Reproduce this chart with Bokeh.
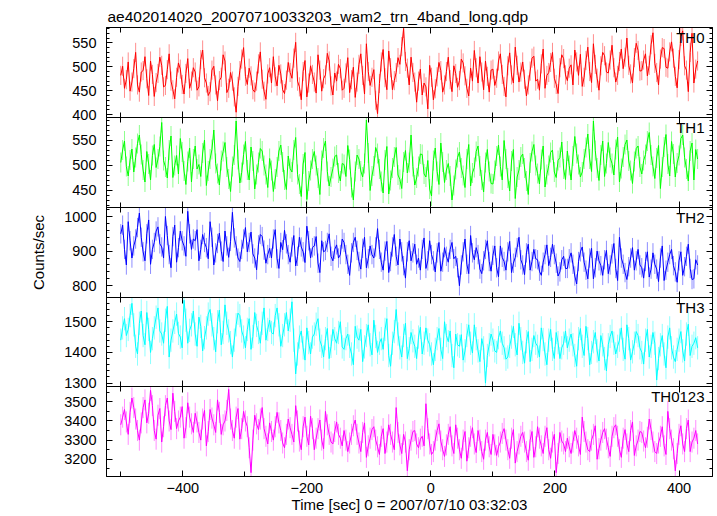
import numpy as np
from bokeh.plotting import figure
from bokeh.models import LinearAxis, SingleIntervalTicker, Label, Range1d, CustomJSTickFormatter
from bokeh.layouts import column
from bokeh.embed import file_html
from bokeh.resources import INLINE

TITLE = "ae402014020_20070710033203_wam2_trn_4band_long.qdp"
XLABEL = "Time [sec] 0 = 2007/07/10 03:32:03"
YLABEL = "Counts/sec"
T_START, T_END = -500, 430

panel_names = ["TH0", "TH1", "TH2", "TH3", "TH0123"]
panel_colors = ["#ff0000", "#00ff00", "#0000ff", "#00ffff", "#ff00ff"]

th0 = [482, 501, 455, 473, 510, 449, 468, 496, 530, 462, 447, 489, 492, 521, 475, 440, 512, 484, 438, 467,
       486, 520, 503, 458, 461, 494, 527, 470, 452, 433, 478, 508, 495, 463, 443, 486, 517, 455, 470, 498,
       489, 451, 458, 515, 535, 477, 466, 440, 448, 493, 501, 462, 429, 471, 478, 525, 512, 446, 455, 488,
       470, 437, 405, 459, 492, 516, 540, 480, 463, 497, 481, 452, 447, 470, 506, 531, 474, 449, 432, 485,
       498, 466, 521, 479, 460, 503, 485, 452, 444, 472, 509, 488, 476, 518, 551, 470, 458, 431, 490, 513,
       437, 466, 502, 484, 468, 445, 525, 493, 449, 475, 483, 528, 512, 460, 441, 487, 470, 505, 496, 451,
       455, 487, 519, 446, 473, 499, 436, 468, 505, 527, 482, 443, 548, 490, 461, 478, 494, 430, 402, 465,
       510, 536, 477, 452, 533, 498, 452, 471, 488, 519, 505, 542, 580, 511, 497, 462, 520, 488, 468, 426,
       470, 495, 441, 466, 458, 412, 503, 478, 431, 454, 479, 509, 492, 447, 462, 490, 520, 473, 448, 502,
       486, 457, 471, 516, 508, 481, 455, 439, 497, 470, 534, 498, 466, 521, 489, 452, 512, 480, 447, 493,
       495, 461, 476, 512, 527, 484, 459, 437, 502, 529, 483, 466, 541, 503, 468, 489, 510, 474, 439, 462,
       491, 518, 522, 470, 474, 451, 506, 537, 455, 482, 488, 509, 530, 476, 463, 444, 498, 525, 517, 483,
       471, 497, 504, 462, 535, 510, 482, 526, 459, 478, 513, 541, 490, 467, 548, 505, 476, 451, 502, 530,
       523, 489, 487, 514, 545, 498, 468, 482, 511, 537, 496, 520, 560, 503, 485, 466, 519, 549, 534, 491,
       492, 514, 527, 481, 503, 546, 571, 507, 488, 462, 516, 540, 538, 499, 497, 531, 552, 518, 480, 456,
       515, 563, 575, 502, 493, 448, 530, 570, 466, 495, 512]

th1 = [505, 530, 548, 497, 478, 510, 532, 486, 515, 543, 560, 521, 490, 466, 527, 502, 470, 519, 541, 495,
       512, 537, 585, 509, 496, 474, 530, 558, 475, 499, 519, 482, 553, 526, 488, 461, 507, 534, 466, 512,
       538, 492, 501, 477, 524, 550, 459, 488, 512, 531, 570, 503, 483, 460, 509, 527, 545, 496, 472, 447,
       497, 520, 588, 511, 464, 485, 521, 547, 490, 470, 536, 508, 452, 481, 505, 533, 528, 499, 481, 455,
       513, 489, 447, 472, 496, 528, 540, 506, 470, 451, 518, 493, 486, 530, 555, 481, 462, 437, 502, 525,
       431, 468, 489, 512, 527, 499, 474, 441, 509, 534, 548, 487, 458, 476, 493, 517, 520, 484, 468, 503,
       501, 477, 539, 511, 455, 430, 487, 520, 512, 488, 476, 503, 590, 524, 449, 478, 498, 535, 523, 492,
       467, 444, 510, 537, 442, 469, 494, 516, 535, 480, 471, 453, 506, 529, 484, 505, 560, 497, 460, 474,
       497, 522, 521, 482, 476, 509, 452, 438, 509, 534, 487, 461, 544, 506, 465, 490, 503, 478, 430, 459,
       491, 515, 526, 494, 479, 455, 512, 541, 458, 484, 495, 527, 538, 498, 470, 446, 505, 531, 487, 463,
       462, 489, 518, 540, 497, 470, 549, 512, 474, 448, 508, 531, 433, 476, 490, 516, 522, 494, 468, 441,
       504, 527, 541, 499, 483, 462, 511, 538, 456, 481, 499, 525, 530, 486, 475, 509, 515, 546, 492, 471,
       528, 499, 470, 518, 557, 523, 501, 476, 486, 512, 535, 562, 512, 487, 588, 529, 494, 469, 520, 548,
       477, 503, 545, 515, 503, 480, 531, 556, 466, 493, 516, 541, 550, 508, 489, 463, 507, 533, 538, 496,
       482, 509, 521, 548, 565, 520, 497, 473, 514, 539, 453, 496, 536, 561, 502, 478, 547, 522, 476, 504,
       519, 553, 560, 515, 492, 468, 528, 544, 470, 531, 512]

th2 = [950, 975, 905, 860, 985, 930, 880, 915, 935, 968, 1010, 940, 898, 872, 950, 990, 862, 905, 925, 958,
       970, 921, 912, 880, 1000, 945, 890, 852, 942, 975, 868, 910, 958, 930, 915, 885, 1015, 950, 905, 935,
       930, 962, 872, 905, 948, 925, 910, 878, 985, 940, 860, 895, 922, 952, 900, 870, 958, 915, 882, 928,
       1012, 938, 915, 880, 870, 905, 935, 968, 898, 925, 955, 892, 880, 846, 918, 948, 942, 903, 865, 890,
       908, 880, 935, 962, 878, 850, 925, 904, 960, 921, 890, 868, 912, 945, 857, 885, 940, 912, 898, 867,
       972, 930, 880, 910, 915, 942, 865, 838, 930, 898, 902, 925, 950, 885, 872, 905, 918, 880, 890, 935,
       925, 890, 862, 830, 895, 925, 940, 902, 870, 848, 908, 940, 852, 878, 915, 890, 880, 912, 965, 905,
       868, 845, 900, 928, 838, 870, 912, 948, 885, 860, 935, 898, 858, 822, 898, 930, 872, 895, 920, 862,
       880, 845, 905, 938, 850, 872, 930, 890, 872, 840, 895, 925, 842, 868, 910, 885, 868, 905, 925, 878,
       885, 852, 800, 860, 898, 935, 862, 835, 945, 895, 875, 910, 890, 848, 835, 872, 905, 930, 870, 842,
       888, 915, 852, 826, 915, 882, 870, 845, 898, 928, 838, 865, 882, 910, 940, 875, 860, 832, 895, 920,
       845, 870, 905, 878, 875, 842, 830, 868, 890, 918, 858, 882, 920, 890, 865, 828, 840, 875, 885, 850,
       850, 878, 895, 862, 828, 805, 870, 898, 912, 868, 845, 820, 880, 908, 820, 852, 900, 872, 858, 830,
       875, 902, 835, 860, 892, 922, 850, 815, 940, 880, 862, 838, 818, 855, 880, 910, 845, 872, 905, 860,
       852, 822, 870, 898, 825, 848, 895, 862, 848, 812, 880, 915, 815, 845, 868, 890, 905, 858, 840, 810,
       872, 898, 830, 855, 885, 920, 850, 818, 820, 875, 860]

th3 = [1440, 1480, 1510, 1455, 1475, 1520, 1560, 1490, 1420, 1395, 1495, 1535, 1455, 1425, 1530, 1475, 1400, 1445, 1480, 1515,
       1545, 1470, 1460, 1430, 1505, 1550, 1385, 1440, 1470, 1498, 1525, 1462, 1450, 1415, 1570, 1505, 1430, 1472, 1490, 1535,
       1460, 1420, 1515, 1485, 1405, 1448, 1480, 1525, 1540, 1490, 1445, 1402, 1500, 1538, 1425, 1465, 1555, 1495, 1470, 1432,
       1385, 1440, 1490, 1528, 1520, 1470, 1450, 1415, 1475, 1510, 1410, 1452, 1530, 1488, 1465, 1430, 1495, 1545, 1440, 1475,
       1505, 1465, 1460, 1520, 1545, 1490, 1420, 1455, 1490, 1530, 1470, 1505, 1565, 1440, 1330, 1395, 1450, 1470, 1415, 1375,
       1480, 1432, 1395, 1450, 1460, 1492, 1510, 1440, 1420, 1385, 1445, 1478, 1380, 1420, 1475, 1445, 1430, 1465, 1500, 1418,
       1410, 1445, 1460, 1420, 1395, 1360, 1485, 1450, 1440, 1475, 1370, 1418, 1455, 1490, 1425, 1392, 1505, 1452, 1400, 1430,
       1445, 1410, 1475, 1510, 1390, 1355, 1430, 1468, 1540, 1460, 1415, 1385, 1455, 1495, 1380, 1412, 1465, 1438, 1420, 1380,
       1450, 1482, 1395, 1430, 1480, 1440, 1425, 1395, 1360, 1410, 1445, 1478, 1410, 1380, 1500, 1455, 1435, 1470, 1390, 1350,
       1460, 1425, 1420, 1458, 1375, 1405, 1455, 1490, 1430, 1398, 1490, 1445, 1405, 1370, 1445, 1415, 1300, 1390, 1425, 1460,
       1440, 1405, 1400, 1448, 1470, 1430, 1415, 1378, 1385, 1420, 1450, 1485, 1425, 1392, 1495, 1445, 1400, 1365, 1435, 1468,
       1370, 1410, 1455, 1430, 1420, 1385, 1480, 1442, 1395, 1360, 1440, 1475, 1410, 1380, 1465, 1432, 1380, 1415, 1430, 1470,
       1415, 1440, 1460, 1425, 1390, 1355, 1445, 1478, 1420, 1390, 1485, 1445, 1360, 1400, 1435, 1465, 1405, 1372, 1455, 1425,
       1380, 1340, 1425, 1452, 1470, 1430, 1395, 1420, 1440, 1480, 1410, 1378, 1490, 1445, 1375, 1402, 1430, 1468, 1455, 1415,
       1400, 1362, 1440, 1475, 1385, 1420, 1465, 1430, 1310, 1380, 1425, 1455, 1395, 1350, 1450, 1480, 1415, 1385, 1370, 1410,
       1440, 1468, 1405, 1372, 1460, 1492, 1390, 1420, 1430, 1448, 1415]

th0123 = [3380, 3420, 3460, 3395, 3330, 3445, 3520, 3470, 3410, 3350, 3300, 3390, 3470, 3510, 3390, 3440, 3560, 3480, 3350, 3305,
          3430, 3465, 3290, 3370, 3480, 3520, 3400, 3355, 3545, 3450, 3360, 3400, 3420, 3475, 3310, 3365, 3495, 3420, 3385, 3340,
          3440, 3395, 3340, 3300, 3410, 3455, 3270, 3345, 3460, 3415, 3380, 3340, 3510, 3445, 3330, 3380, 3400, 3455, 3565, 3410,
          3350, 3310, 3420, 3465, 3305, 3360, 3450, 3400, 3370, 3260, 3130, 3300, 3430, 3385, 3355, 3410, 3470, 3360, 3320, 3280,
          3390, 3345, 3300, 3370, 3445, 3390, 3350, 3285, 3260, 3330, 3410, 3365, 3330, 3290, 3480, 3400, 3295, 3250, 3370, 3420,
          3320, 3275, 3425, 3360, 3250, 3310, 3360, 3405, 3300, 3255, 3450, 3380, 3330, 3290, 3280, 3345, 3395, 3330, 3310, 3270,
          3350, 3300, 3240, 3285, 3330, 3375, 3405, 3330, 3285, 3240, 3340, 3390, 3210, 3270, 3310, 3355, 3370, 3300, 3265, 3225,
          3320, 3360, 3230, 3290, 3380, 3330, 3290, 3250, 3470, 3340, 3275, 3230, 3330, 3290, 3140, 3250, 3300, 3345, 3350, 3280,
          3260, 3305, 3320, 3270, 3490, 3360, 3280, 3225, 3240, 3300, 3350, 3385, 3295, 3250, 3215, 3275, 3330, 3370, 3270, 3230,
          3380, 3310, 3250, 3205, 3300, 3345, 3190, 3260, 3320, 3365, 3280, 3235, 3350, 3300, 3240, 3200, 3300, 3340, 3265, 3225,
          3330, 3275, 3220, 3265, 3290, 3335, 3360, 3300, 3250, 3205, 3310, 3355, 3180, 3240, 3280, 3320, 3340, 3290, 3240, 3195,
          3300, 3345, 3210, 3265, 3370, 3310, 3270, 3230, 3320, 3365, 3250, 3205, 3290, 3330, 3130, 3230, 3340, 3295, 3280, 3240,
          3310, 3265, 3230, 3290, 3350, 3310, 3270, 3225, 3420, 3345, 3290, 3250, 3240, 3300, 3330, 3375, 3200, 3255, 3300, 3340,
          3360, 3305, 3260, 3215, 3320, 3365, 3380, 3320, 3250, 3210, 3310, 3355, 3280, 3240, 3350, 3395, 3220, 3270, 3300, 3345,
          3340, 3295, 3260, 3315, 3410, 3355, 3290, 3240, 3230, 3285, 3320, 3370, 3270, 3225, 3450, 3360, 3300, 3255, 3140, 3230,
          3330, 3375, 3280, 3240, 3360, 3405, 3240, 3290, 3310, 3350, 3280]

series = [th0, th1, th2, th3, th0123]
# typical 1-sigma error bar per band
y_err = [20, 20, 28, 38, 55]
y_lo = [394, 415, 766, 1289, 3110]
y_hi = [582, 595, 1026, 1579, 3580]
y_major = [50, 50, 100, 100, 100]
y_minor = [5, 5, 5, 5, 2]

FONT = "Liberation Sans"
FS = "14.5px"
FRAME_H = [90, 90, 90, 89, 90]
TOP_B = 27
BOT_B = 40
OV = 8
LEFT_B = 106
W = 716

blank = CustomJSTickFormatter(code="return ''")

xr = Range1d(-523, 454)
figs = []
n = len(series)
for i in range(n):
    first = i == 0
    last = i == n - 1
    bb = BOT_B if last else OV
    tb = TOP_B if first else 0
    h = FRAME_H[i] + tb + bb
    p = figure(width=W, height=h, x_range=xr, y_range=Range1d(y_lo[i], y_hi[i]),
               output_backend="svg", toolbar_location=None,
               x_axis_location=None, y_axis_location=None,
               min_border_left=LEFT_B, min_border_right=4,
               min_border_top=tb, min_border_bottom=bb,
               background_fill_color="white", border_fill_alpha=0)
    if not first:
        p.margin = (-OV, 0, 0, 0)
    p.outline_line_color = "black"
    p.grid.visible = False

    la = LinearAxis(ticker=SingleIntervalTicker(interval=y_major[i], num_minor_ticks=y_minor[i]))
    la.major_tick_in = 6; la.major_tick_out = 0
    la.minor_tick_in = 3; la.minor_tick_out = 0
    la.major_label_standoff = 10
    la.major_label_text_font = FONT
    la.major_label_text_font_size = FS
    la.major_label_text_color = "black"
    la.axis_line_color = "black"
    if i == 2:
        la.axis_label = YLABEL
        la.axis_label_text_font = FONT
        la.axis_label_text_font_size = "15px"
        la.axis_label_text_font_style = "normal"
        la.axis_label_text_color = "black"
        la.axis_label_standoff = 14
    p.add_layout(la, "left")

    ra = LinearAxis(ticker=SingleIntervalTicker(interval=y_major[i], num_minor_ticks=y_minor[i]),
                    formatter=blank)
    ra.major_tick_in = 6; ra.major_tick_out = 0
    ra.minor_tick_in = 3; ra.minor_tick_out = 0
    ra.major_label_text_font_size = "0px"
    ra.major_label_standoff = 0
    p.add_layout(ra, "right")

    for loc in ("above", "below"):
        labelled = (loc == "below" and last)
        xa = LinearAxis(ticker=SingleIntervalTicker(interval=200, num_minor_ticks=2))
        xa.major_tick_in = 6; xa.major_tick_out = 0
        xa.minor_tick_in = 5; xa.minor_tick_out = 0
        if labelled:
            xa.major_label_standoff = 6
            xa.major_label_text_font = FONT
            xa.major_label_text_font_size = FS
            xa.major_label_text_color = "black"
            xa.axis_label = XLABEL
            xa.axis_label_text_font = FONT
            xa.axis_label_text_font_size = "15px"
            xa.axis_label_text_font_style = "normal"
            xa.axis_label_text_color = "black"
            xa.axis_label_standoff = 0
        else:
            xa.formatter = blank
            xa.major_label_text_font_size = "0px"
            xa.major_label_standoff = 0
        p.add_layout(xa, loc)

    vals = np.asarray(series[i], dtype=float)
    t = np.linspace(T_START, T_END, len(vals))
    p.segment(x0=t, y0=vals - y_err[i], x1=t, y1=vals + y_err[i],
              line_color=panel_colors[i], line_alpha=0.45, line_width=1)
    p.line(t, vals, line_color=panel_colors[i], line_width=1)

    p.add_layout(Label(x=454, y=y_hi[i], x_offset=-8, y_offset=-1.5, text=panel_names[i],
                       text_align="right", text_baseline="top", text_font=FONT,
                       text_font_size="15px", text_color="black"))

    if first:
        p.title.text = TITLE
        p.title.align = "left"
        p.title.offset = 1
        p.title.standoff = 6
        p.title.text_font = FONT
        p.title.text_font_size = "15.5px"
        p.title.text_font_style = "normal"
        p.title.text_color = "black"
    figs.append(p)

layout = column(*figs, spacing=0)
open("out.html", "w").write(file_html(layout, INLINE))
